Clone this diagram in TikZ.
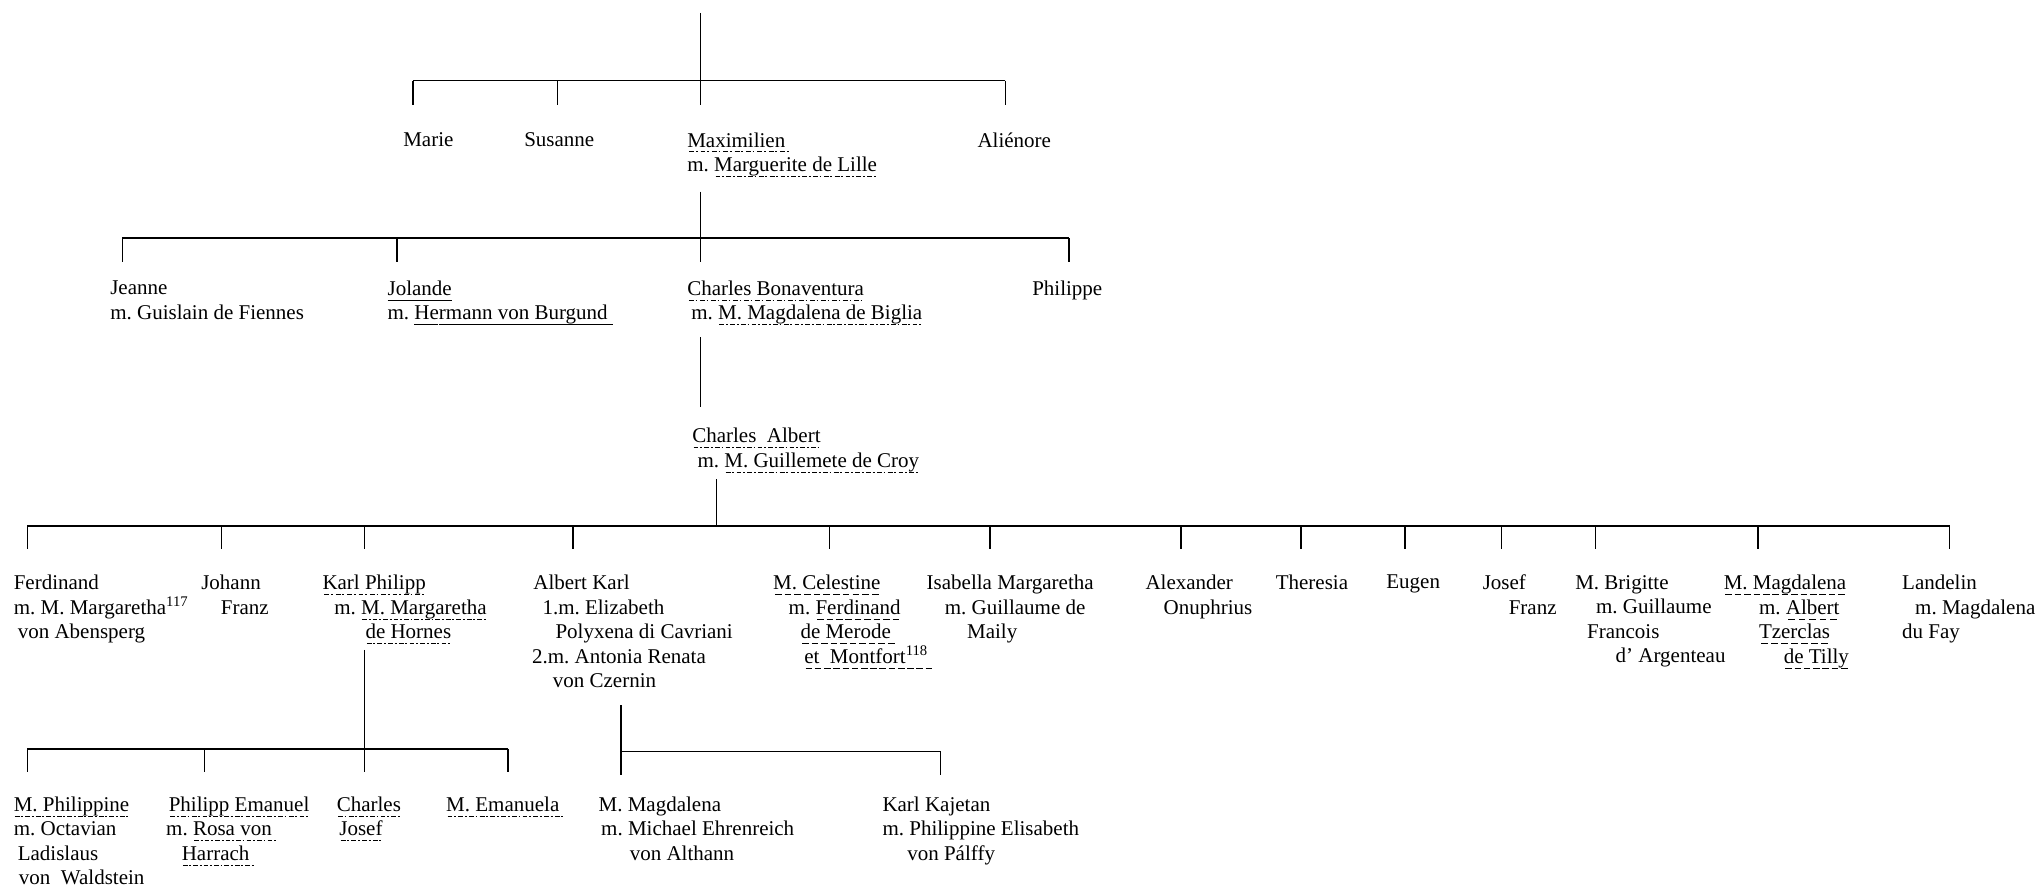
\documentclass[tikz,border=0pt]{standalone}
\usepackage{fontspec}
\setmainfont{Liberation Serif}
% underlines: dash-dot, dashed, solid
\newcommand\ulpat[2]{\leavevmode\setbox0\hbox{#2}\rlap{\vtop{\kern2.2pt\hbox to\wd0{\xleaders\hbox{#1}\hfil}}}\box0}
\newcommand\ddline[1]{\ulpat{\kern.5pt\vrule width 2.4pt height .45pt depth 0pt\kern.9pt\vrule width .9pt height .45pt depth 0pt\kern.5pt}{#1}}
\newcommand\dashline[1]{\ulpat{\kern.65pt\vrule width 3.3pt height .45pt depth 0pt\kern.65pt}{#1}}
\newcommand\solidline[1]{\ulpat{\vrule width 1pt height .45pt depth 0pt}{#1}}

\tikzset{every picture/.style={line width=0.8pt}}
\tikzset{
  pers/.style={anchor=north west,inner sep=0.75pt,align=left,font=\fontsize{10.5}{12.25}\selectfont\frenchspacing},
  dropA/.style={shorten >=12.7pt},
  dropB/.style={shorten >=8.5pt},
  dropD/.style={shorten >=11.7pt},
  dropE/.style={shorten >=11pt}
}

\begin{document}
\begin{tikzpicture}[x=0.5pt,y=0.5pt,yscale=-1, xscale=1]
\useasboundingbox (0,0) rectangle (2042,887);

% Text Node
\draw (401,130.2) node (marie) [pers] {Marie};
% Text Node
\draw (522,130.2) node (susanne) [pers] {Susanne};
% Text Node
\draw (685,130.2) node (maxim) [pers] {\ddline{Maximilien\ }\\m. \ddline{Marguerite de Lille}};
% Text Node
\draw (975.2,130.2) node (alienore) [pers] {Aliénore};

% Text Node
\draw (108,278.6) node (jeanne) [pers] {Jeanne\\m. Guislain de Fiennes};
% Text Node
\draw (385.3,278.6) node (jolande) [pers] {\solidline{Jolande}\\m. \solidline{Hermann von Burgund\ }};
% Text Node
\draw (685,278.6) node (bonav) [pers] {\ddline{Charles Bonaventura}\\\hspace*{2pt}m. \ddline{M. Magdalena de Biglia}};
% Text Node
\draw (1030,278.6) node (philippe) [pers] {Philippe};

% Text Node
\draw (690,425.8) node (calbert) [pers] {\ddline{Charles\ \ Albert}\\\hspace*{2.6pt}m. \ddline{M. Guillemete de Croy}};

% Text Node
\draw (11.5,572.9) node (ferd) [pers] {Ferdinand\\m. M. Margaretha\textsuperscript{117}\\\hspace*{2pt}von Abensperg};
% Text Node
\draw (199,572.9) node (johann) [pers] {Johann\\\hspace*{9.8pt}Franz};
% Text Node
\draw (320.2,572.9) node (karlph) [pers] {\ddline{Karl\ Philipp}\\\hspace*{5.9pt}m. \ddline{M. Margaretha}\\\hspace*{21.5pt}\ddline{de Hornes}};
% Text Node
\draw (529.8,572.9) node (albkarl) [pers] {\hspace*{0.65pt}Albert Karl\\\hspace*{5.2pt}1.m. Elizabeth\\\hspace*{11.7pt}Polyxena di Cavriani\\2.m. Antonia Renata\\\hspace*{10.4pt}von Czernin};
% Text Node
\draw (770.8,572.9) node (celest) [pers] {\dashline{M. Celestine}\\\hspace*{7.8pt}m. \dashline{Ferdinand}\\\hspace*{13.7pt}\dashline{de Merode\ }\\\hspace*{15.6pt}\dashline{et\ \ Montfort\textsuperscript{118}\ }};
% Text Node
\draw (924.4,572.9) node (isabella) [pers] {Isabella Margaretha\\\hspace*{9.1pt}m. Guillaume de\\\hspace*{20.2pt}Maily};
% Text Node
\draw (1143.2,572.9) node (alexander) [pers] {Alexander\\\hspace*{9.1pt}Onuphrius};
% Text Node
\draw (1273.5,572.9) node (theresia) [pers] {Theresia};
% Text Node
\draw (1384.1,572.9) node (eugen) [pers] {Eugen};
% Text Node
\draw (1480.5,572.9) node (josef) [pers] {Josef\\\hspace*{13pt}Franz};
% Text Node
\draw (1573,572.9) node (brigitte) [pers] {M. Brigitte\\\hspace*{10.4pt}m. Guillaume\\\hspace*{5.9pt}Francois\\\hspace*{20.2pt}d’ Argenteau};
% Text Node
\draw (1721.5,572.9) node (magdal) [pers] {\dashline{M. Magdalena}\\\hspace*{17.6pt}m. \dashline{Albert}\\\hspace*{17.6pt}\dashline{Tzerclas}\\\hspace*{30pt}\dashline{de Tilly}};
% Text Node
\draw (1899.9,572.9) node (landelin) [pers] {Landelin\\\hspace*{6.5pt}m. Magdalena\\du Fay};

% Text Node
\draw (11.5,794.3) node (philippine) [pers] {\ddline{M. Philippine}\\m. Octavian\\\hspace*{2pt}Ladislaus\\\hspace*{2.6pt}von\ \ Waldstein};
% Text Node
\draw (163.9,794.3) node (emanuel) [pers] {\hspace*{1.3pt}\ddline{Philipp Emanuel}\\m. \ddline{Rosa von\ }\\\hspace*{7.8pt}\ddline{Harrach\ }};
% Text Node
\draw (334.5,794.3) node (charles) [pers] {\ddline{Charles}\\\hspace*{1.3pt}\ddline{Josef}};
% Text Node
\draw (443.9,794.3) node (emanuela) [pers] {\ddline{M. Emanuela\ }};
% Text Node
\draw (596.3,794.3) node (magdalena) [pers] {M. Magdalena\\\hspace*{1.3pt}m. Michael Ehrenreich\\\hspace*{15.6pt}von Althann};
% Text Node
\draw (880.2,794.3) node (kajetan) [pers] {Karl Kajetan\\m. Philippine Elisabeth\\\hspace*{12.4pt}von Pálffy};

% bar ends and drop points
\coordinate (root) at (700.6,13);
\coordinate (dA-marie) at (412.8,80.7);
\coordinate (dA-susanne) at (557.4,80.7);
\coordinate (dA-alienore) at (1005.4,80.7);
\coordinate (dB-jeanne) at (122.4,238.3);
\coordinate (dB-jolande) at (397.2,238.3);
\coordinate (dB-bonav) at (700.6,238.3);
\coordinate (dB-philippe) at (1069.2,238.3);
\coordinate (dD-ferd) at (27.3,526.1);
\coordinate (dD-johann) at (221.4,526.1);
\coordinate (dD-karlph) at (364.6,526.1);
\coordinate (dD-albkarl) at (573,526.1);
\coordinate (dD-mid) at (716.3,526.1);
\coordinate (dD-celest) at (829.6,526.1);
\coordinate (dD-isabella) at (989.7,526.1);
\coordinate (dD-alexander) at (1181.2,526.1);
\coordinate (dD-theresia) at (1301,526.1);
\coordinate (dD-eugen) at (1405.2,526.1);
\coordinate (dD-josef) at (1501.6,526.1);
\coordinate (dD-brigitte) at (1595.3,526.1);
\coordinate (dD-magdal) at (1758.1,526.1);
\coordinate (dD-landelin) at (1949.5,526.1);
\coordinate (dE-philippine) at (27.3,748.8);
\coordinate (dE-emanuel) at (204.5,748.8);
\coordinate (dE-charles) at (364.6,748.8);
\coordinate (dE-emanuela) at (507.9,748.8);
\coordinate (dF-magdalena) at (621.2,751.4);
\coordinate (dF-kajetan) at (940.3,751.4);

%Straight Lines
\draw (dA-marie) -- (dA-alienore);
\draw [dropA] (root) -- (root |- maxim.north);
\draw [dropA] (dA-marie) -- (dA-marie |- marie.north);
\draw [dropA] (dA-susanne) -- (dA-susanne |- susanne.north);
\draw [dropA] (dA-alienore) -- (dA-alienore |- alienore.north);

%Straight Lines
\draw (dB-jeanne) -- (dB-philippe);
\draw [shorten <=6.2pt] (dB-bonav |- maxim.south) -- (dB-bonav);
\draw [dropB] (dB-jeanne) -- (dB-jeanne |- jeanne.north);
\draw [dropB] (dB-jolande) -- (dB-jolande |- jolande.north);
\draw [dropB] (dB-bonav) -- (dB-bonav |- bonav.north);
\draw [dropB] (dB-philippe) -- (dB-philippe |- philippe.north);

%Straight Lines
\draw [shorten <=4.9pt, shorten >=9.2pt] (dB-bonav |- bonav.south) -- (dB-bonav |- calbert.north);

%Straight Lines
\draw (dD-ferd) -- (dD-landelin);
\draw [shorten <=2.2pt] (dD-mid |- calbert.south) -- (dD-mid);
\draw [dropD] (dD-ferd) -- (dD-ferd |- ferd.north);
\draw [dropD] (dD-johann) -- (dD-johann |- johann.north);
\draw [dropD] (dD-karlph) -- (dD-karlph |- karlph.north);
\draw [dropD] (dD-albkarl) -- (dD-albkarl |- albkarl.north);
\draw [dropD] (dD-celest) -- (dD-celest |- celest.north);
\draw [dropD] (dD-isabella) -- (dD-isabella |- isabella.north);
\draw [dropD] (dD-alexander) -- (dD-alexander |- alexander.north);
\draw [dropD] (dD-theresia) -- (dD-theresia |- theresia.north);
\draw [dropD] (dD-eugen) -- (dD-eugen |- eugen.north);
\draw [dropD] (dD-josef) -- (dD-josef |- josef.north);
\draw [dropD] (dD-brigitte) -- (dD-brigitte |- brigitte.north);
\draw [dropD] (dD-magdal) -- (dD-magdal |- magdal.north);
\draw [dropD] (dD-landelin) -- (dD-landelin |- landelin.north);

%Straight Lines
\draw (dE-philippine) -- (dE-emanuela);
\draw [shorten <=1.7pt] (dE-charles |- karlph.south) -- (dE-charles);
\draw [dropE] (dE-philippine) -- (dE-philippine |- philippine.north);
\draw [dropE] (dE-emanuel) -- (dE-emanuel |- emanuel.north);
\draw [dropE] (dE-charles) -- (dE-charles |- charles.north);
\draw [dropE] (dE-emanuela) -- (dE-emanuela |- emanuela.north);

%Straight Lines
\draw (dF-magdalena) -- (dF-kajetan);
\draw [shorten <=7.6pt] (dF-magdalena |- albkarl.south) -- (dF-magdalena);
\draw [shorten >=9.5pt] (dF-magdalena) -- (dF-magdalena |- magdalena.north);
\draw [shorten >=9.5pt] (dF-kajetan) -- (dF-kajetan |- kajetan.north);
\end{tikzpicture}
\end{document}
